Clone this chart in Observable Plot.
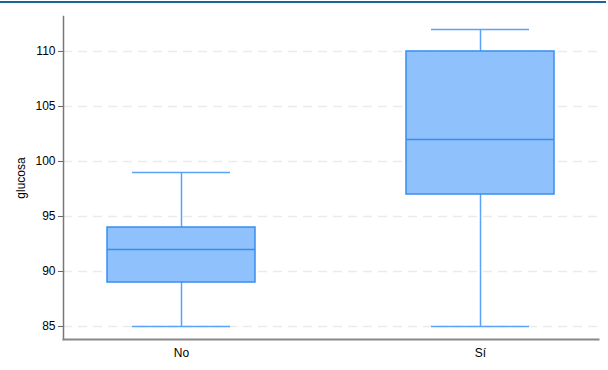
<!DOCTYPE html>
<html>
<head>
<meta charset="utf-8">
<script src="https://cdn.jsdelivr.net/npm/d3@7"></script>
<script src="https://cdn.jsdelivr.net/npm/@observablehq/plot@0.6"></script>
<style>
  html, body { margin: 0; padding: 0; background: #fff; }
  #wrap { position: relative; width: 608px; height: 370px; }
  #topline { position: absolute; left: 0; top: 1px; width: 606px; height: 2px; background: #1b6699; }
  svg { font-family: "Liberation Sans", Arial, sans-serif; }
</style>
</head>
<body>
<div id="wrap"><div id="topline"></div></div>
<script>
const categories = ["No", "Sí"];
const mins = [85, 85];
const q1s = [89, 97];
const medians = [92, 102];
const q3s = [94, 110];
const maxs = [99, 112];
const yTicks = [85, 90, 95, 100, 105, 110];

const data = categories.map((c, i) => ({
  group: c, min: mins[i], q1: q1s[i], median: medians[i], q3: q3s[i], max: maxs[i]
}));

const boxFill = "#8fc1fc";
const boxStroke = "#3a8df0";
const whisker = "#5aa3f6";

const chart = Plot.plot({
  width: 608,
  height: 370,
  marginLeft: 63,
  marginRight: 10,
  marginTop: 16,
  marginBottom: 31,
  style: { fontFamily: "'Liberation Sans', Arial, sans-serif", fontSize: "12px", color: "#000", background: "transparent" },
  x: { domain: categories, paddingInner: 0.504, paddingOuter: 0.145, label: null },
  y: { domain: [83.82, 113.18], label: null },
  marks: [
    Plot.gridY(yTicks, { stroke: "#ebebeb", strokeOpacity: 1, strokeDasharray: "9,6", strokeWidth: 1.5 }),
    Plot.ruleX(data, { x: "group", y1: "min", y2: "q1", stroke: whisker, strokeWidth: 1.5 }),
    Plot.ruleX(data, { x: "group", y1: "q3", y2: "max", stroke: whisker, strokeWidth: 1.5 }),
    Plot.tickY(data, { x: "group", y: "min", stroke: whisker, strokeWidth: 1.5, inset: 25 }),
    Plot.tickY(data, { x: "group", y: "max", stroke: whisker, strokeWidth: 1.5, inset: 25 }),
    Plot.barY(data, { x: "group", y1: "q1", y2: "q3", fill: boxFill, stroke: boxStroke, strokeWidth: 1.5 }),
    Plot.tickY(data, { x: "group", y: "median", stroke: boxStroke, strokeWidth: 1.5 }),
    Plot.axisY(yTicks, { tickSize: 5, tickPadding: 3, stroke: "#666", fontSize: 12, label: "glucosa", labelAnchor: "center", labelOffset: 47, labelArrow: "none" }),
    Plot.axisX({ tickSize: 0, tickPadding: 9, fontSize: 12, label: null }),
    Plot.frame({ anchor: "left", stroke: "#777", strokeWidth: 1.5 }),
    Plot.frame({ anchor: "bottom", stroke: "#888", strokeWidth: 2 })
  ]
});
document.getElementById("wrap").appendChild(chart);
</script>
</body>
</html>
